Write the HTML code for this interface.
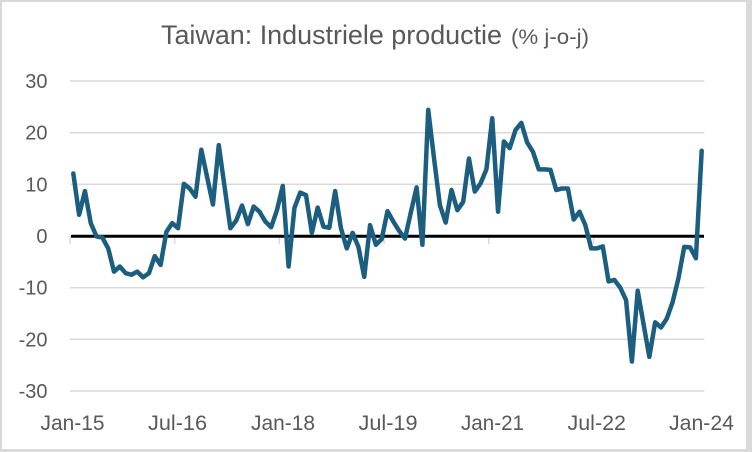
<!DOCTYPE html>
<html>
<head>
<meta charset="utf-8">
<style>
html,body{margin:0;padding:0;background:#d9d9d9;}
body{width:752px;height:452px;overflow:hidden;}
svg{display:block;}
</style>
</head>
<body>
<svg width="752" height="452" viewBox="0 0 752 452" xmlns="http://www.w3.org/2000/svg">
  <rect x="0" y="0" width="752" height="452" fill="#d9d9d9"/>
  <rect x="2" y="2" width="744" height="447" fill="#ffffff"/>

  <!-- title -->
  <text x="161" y="44" font-family="Liberation Sans, sans-serif" font-size="27" fill="#595959" textLength="341" lengthAdjust="spacingAndGlyphs">Taiwan: Industriele productie</text>
  <text x="511" y="44" font-family="Liberation Sans, sans-serif" font-size="21" fill="#595959" textLength="78" lengthAdjust="spacingAndGlyphs">(% j-o-j)</text>

  <!-- gridlines -->
  <g stroke="#d9d9d9" stroke-width="1.5">
    <line x1="70" y1="81" x2="704.5" y2="81"/>
    <line x1="70" y1="132.7" x2="704.5" y2="132.7"/>
    <line x1="70" y1="184.3" x2="704.5" y2="184.3"/>
    <line x1="70" y1="287.7" x2="704.5" y2="287.7"/>
    <line x1="70" y1="339.3" x2="704.5" y2="339.3"/>
    <line x1="70" y1="391" x2="704.5" y2="391"/>
  </g>
  <!-- ticks -->
  <g stroke="#d9d9d9" stroke-width="1.5">
    <line x1="70" y1="236" x2="70" y2="244"/>
    <line x1="174.7" y1="236" x2="174.7" y2="244"/>
    <line x1="279.4" y1="236" x2="279.4" y2="244"/>
    <line x1="384.1" y1="236" x2="384.1" y2="244"/>
    <line x1="488.8" y1="236" x2="488.8" y2="244"/>
    <line x1="593.5" y1="236" x2="593.5" y2="244"/>
    <line x1="698.2" y1="236" x2="698.2" y2="244"/>
  </g>

  <!-- zero line -->
  <line x1="71" y1="236.3" x2="704" y2="236.3" stroke="#000000" stroke-width="3"/>

  <!-- y labels -->
  <g font-family="Liberation Sans, sans-serif" font-size="20" fill="#595959" text-anchor="end">
    <text x="47.5" y="88">30</text>
    <text x="47.5" y="139.7">20</text>
    <text x="47.5" y="191.3">10</text>
    <text x="47.5" y="243">0</text>
    <text x="47.5" y="294.7">-10</text>
    <text x="47.5" y="346.3">-20</text>
    <text x="47.5" y="398">-30</text>
  </g>

  <!-- x labels -->
  <g font-family="Liberation Sans, sans-serif" font-size="21" fill="#595959">
    <text x="40.5" y="430" textLength="64" lengthAdjust="spacingAndGlyphs">Jan-15</text>
    <text x="148" y="430" textLength="59" lengthAdjust="spacingAndGlyphs">Jul-16</text>
    <text x="251" y="430" textLength="64" lengthAdjust="spacingAndGlyphs">Jan-18</text>
    <text x="358.5" y="430" textLength="59" lengthAdjust="spacingAndGlyphs">Jul-19</text>
    <text x="461" y="430" textLength="63" lengthAdjust="spacingAndGlyphs">Jan-21</text>
    <text x="567.5" y="430" textLength="58.5" lengthAdjust="spacingAndGlyphs">Jul-22</text>
    <text x="669" y="430" textLength="65" lengthAdjust="spacingAndGlyphs">Jan-24</text>
  </g>

  <!-- series -->
  <g transform="translate(73.3,236) scale(5.8185,5.1667)">
    <polyline fill="none" stroke="#1b5e80" stroke-width="4.5" stroke-linejoin="round" stroke-linecap="round" vector-effect="non-scaling-stroke"
      points="0,-12.1 1,-4.1 2,-8.7 3,-2.5 4,0.1 5,0.3 6,2.4 7,6.9 8,5.9 9,7.2 10,7.5 11,6.9 12,8.0 13,7.2 14,3.9 15,5.6 16,-0.8 17,-2.5 18,-1.5 19,-10.1 20,-9.2 21,-7.6 22,-16.7 23,-11.4 24,-6.1 25,-17.6 26,-9.5 27,-1.5 28,-3.0 29,-5.9 30,-2.3 31,-5.7 32,-4.7 33,-2.8 34,-1.7 35,-5.0 36,-9.7 37,5.9 38,-5.4 39,-8.4 40,-7.9 41,-0.6 42,-5.5 43,-1.8 44,-1.6 45,-8.7 46,-1.5 47,2.4 48,-0.6 49,2.1 50,7.9 51,-2.1 52,1.7 53,0.6 54,-4.8 55,-2.8 56,-1.0 57,0.5 58,-4.5 59,-9.4 60,1.7 61,-24.4 62,-15 63,-6.0 64,-2.6 65,-8.9 66,-5.0 67,-6.6 68,-15.0 69,-8.6 70,-10.2 71,-12.9 72,-22.8 73,-4.7 74,-18.3 75,-17.0 76,-20.5 77,-21.9 78,-18.1 79,-16.3 80,-12.9 81,-12.9 82,-12.8 83,-8.9 84,-9.2 85,-9.2 86,-3.2 87,-4.7 88,-2.1 89,2.4 90,2.4 91,2.0 92,8.8 93,8.5 94,10.0 95,12.4 96,24.3 97,10.6 98,17.0 99,23.4 100,16.7 101,17.7 102,16.0 103,12.8 104,8.2 105,2.1 106,2.2 107,4.3 108,-16.5"/>
  </g>
</svg>
</body>
</html>
